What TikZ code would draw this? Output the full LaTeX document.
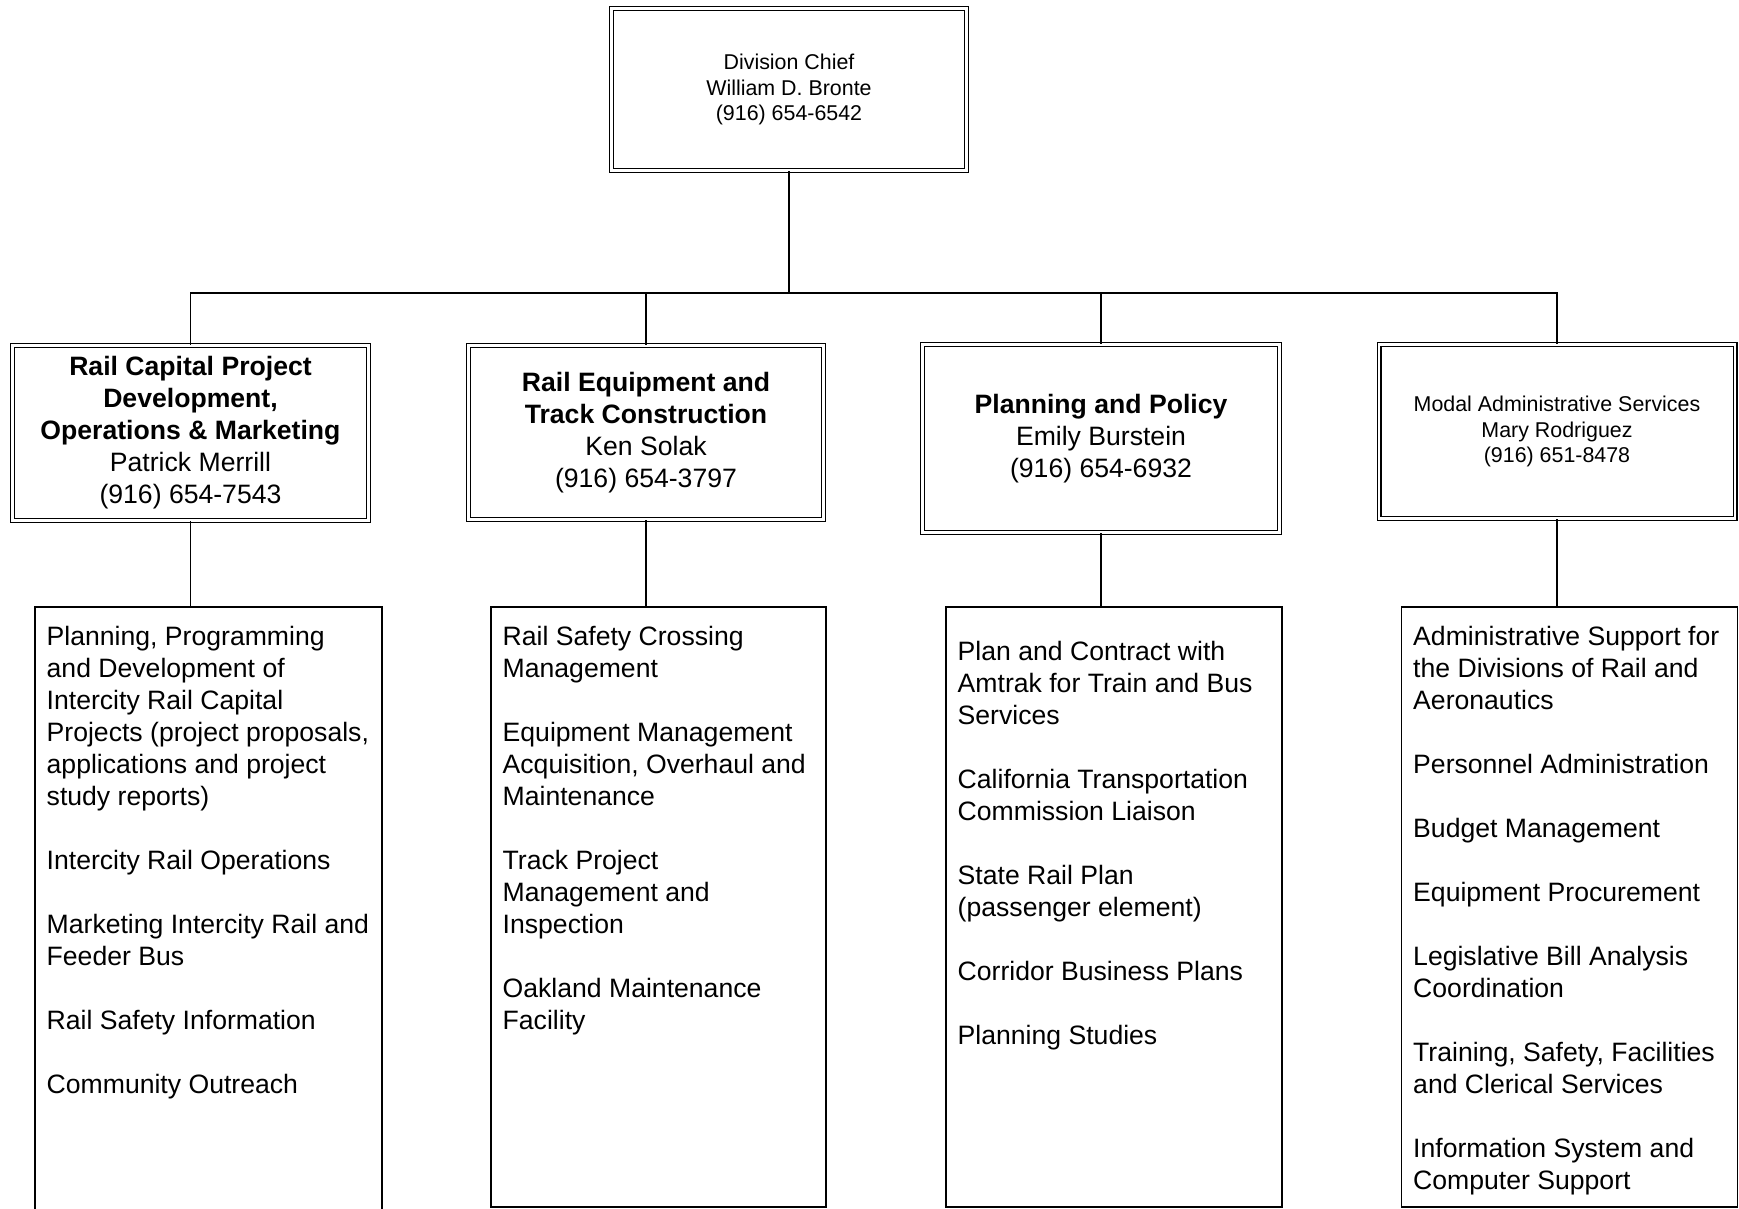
\documentclass[tikz,border=0pt]{standalone}
\usepackage{fontspec}
\setmainfont{Liberation Sans}
\usepackage{tikz}
\newcommand{\itemsize}{\fontsize{13.3}{16}\selectfont}
\newcommand{\headsize}{\fontsize{10.7}{12.75}\selectfont}
\tikzset{
 unitbox/.style={draw,double,double distance=1.3pt,line width=0.6pt,inner sep=0pt,align=center},
 dutybox/.style={draw,line width=0.7pt,inner sep=0pt},
 duties/.style={anchor=north west,align=left,inner sep=0pt,font=\itemsize},
 link/.style={line width=0.7pt}
}
\begin{document}
\begin{tikzpicture}[x=0.5pt,y=-0.5pt]
 \useasboundingbox (0,0) rectangle (1739,1209);
 % chief and the four units
 \node[unitbox,font=\headsize,minimum width=177.5pt,minimum height=81pt] (chief) at (789,89.5) {Division Chief\\William D. Bronte\\(916) 654-6542};
 \node[unitbox,font=\itemsize,minimum width=178pt,minimum height=87.5pt] (capital) at (190.5,433) {\textbf{Rail Capital Project}\\\textbf{Development,}\\\textbf{Operations \& Marketing}\\Patrick Merrill\\(916) 654-7543};
 \node[unitbox,font=\itemsize,minimum width=177.5pt,minimum height=87pt] (track) at (646,432.5) {\textbf{Rail Equipment and}\\\textbf{Track Construction}\\Ken Solak\\(916) 654-3797};
 \node[unitbox,font=\itemsize,minimum width=178.5pt,minimum height=94pt] (policy) at (1101,438.5) {\textbf{Planning and Policy}\\Emily Burstein\\(916) 654-6932};
 \node[unitbox,font=\headsize,minimum width=178pt,minimum height=87pt] (modal) at (1557,431.5) {Modal Administrative Services\\Mary Rodriguez\\(916) 651-8478};
 \coordinate (bus) at (789,293);
 \draw[link] (chief.south) -- (bus) (capital.north) -- (capital.north |- bus) -- (modal.north |- bus) -- (modal.north);
 \foreach \u in {track,policy} \draw[link] (\u.north) -- (\u.north |- bus);
 % duty lists
 \node[dutybox,minimum width=173.5pt,minimum height=303.5pt] (capitalduty) at (208.5,910.5) {};
 \node[dutybox,minimum width=167.5pt,minimum height=300pt] (trackduty) at (658.5,907) {};
 \node[dutybox,minimum width=168pt,minimum height=300pt] (policyduty) at (1114,907) {};
 \node[dutybox,minimum width=168pt,minimum height=300pt] (modalduty) at (1569.5,907) {};
 \foreach \u in {capital,track,policy,modal} \draw[link] (\u.south) -- (\u.south |- \u duty.north);
 \node[duties] (capitaltext) at ([xshift=6pt,yshift=-10pt]capitalduty.north west) {Planning, Programming\\and Development of\\Intercity Rail Capital\\Projects (project proposals,\\applications and project\\study reports)\\[16pt]Intercity Rail Operations\\[16pt]Marketing Intercity Rail and\\Feeder Bus\\[16pt]Rail Safety Information\\[16pt]Community Outreach};
 \node[duties] (tracktext) at ([xshift=6pt,yshift=-10pt]trackduty.north west) {Rail Safety Crossing\\Management\\[16pt]Equipment Management\\Acquisition, Overhaul and\\Maintenance\\[16pt]Track Project\\Management and\\Inspection\\[16pt]Oakland Maintenance\\Facility};
 \node[duties] (policytext) at ([xshift=6pt,yshift=-17.5pt]policyduty.north west) {Plan and Contract with\\Amtrak for Train and Bus\\Services\\[16pt]California Transportation\\Commission Liaison\\[16pt]State Rail Plan\\(passenger element)\\[16pt]Corridor Business Plans\\[16pt]Planning Studies};
 \node[duties] (modaltext) at ([xshift=6pt,yshift=-10pt]modalduty.north west) {Administrative Support for\\the Divisions of Rail and\\Aeronautics\\[16pt]Personnel Administration\\[16pt]Budget Management\\[16pt]Equipment Procurement\\[16pt]Legislative Bill Analysis\\Coordination\\[16pt]Training, Safety, Facilities\\and Clerical Services\\[16pt]Information System and\\Computer Support};
\end{tikzpicture}
\end{document}
